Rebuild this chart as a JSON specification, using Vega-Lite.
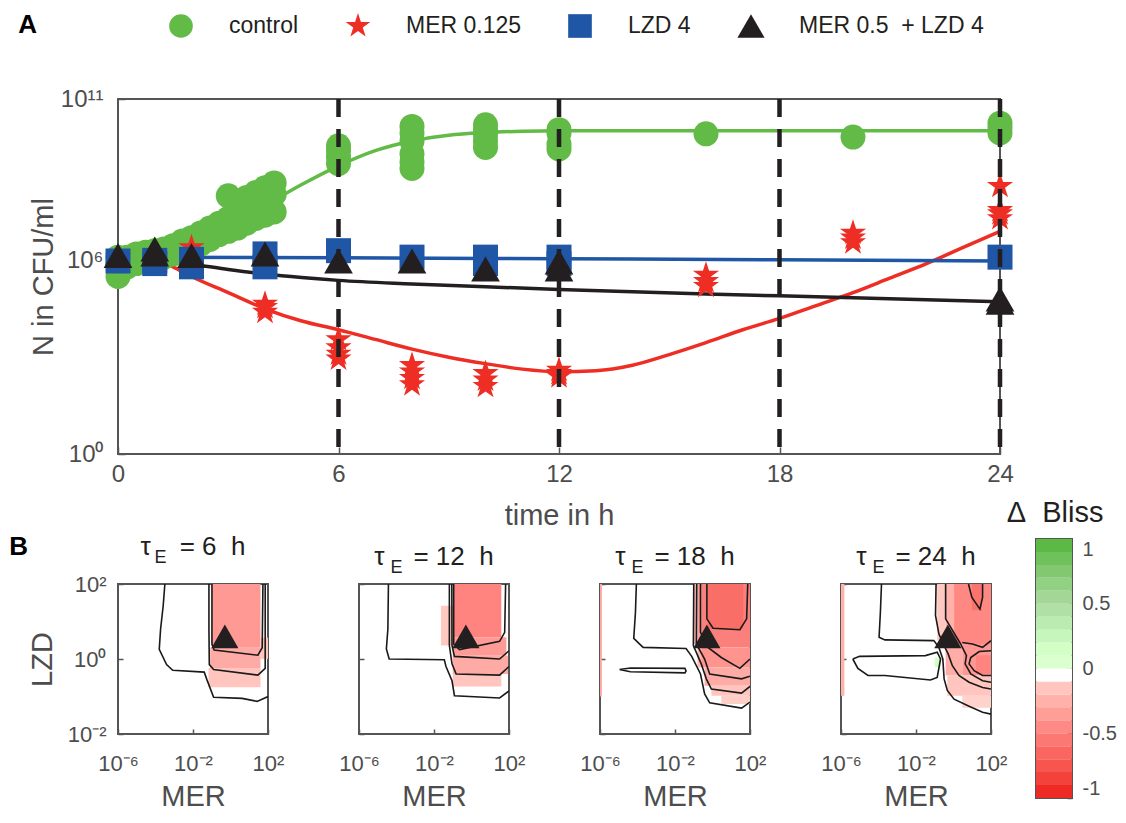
{
  "$schema": "https://vega.github.io/schema/vega-lite/v6.json",
  "background": "white",
  "padding": {"left": 9, "top": 11, "right": 4, "bottom": 2},
  "config": {
    "font": "Liberation Sans",
    "view": {"stroke": "#555555", "strokeWidth": 2},
    "axis": {"grid": false, "domain": false, "ticks": true, "tickColor": "#555555", "tickWidth": 1.5, "labelColor": "#4d4d4d", "titleColor": "#4d4d4d", "titleFontWeight": "normal", "labelFont": "Liberation Sans", "titleFont": "Liberation Sans", "labelOverlap": false},
    "title": {"font": "Liberation Sans", "color": "#231f20", "subtitleColor": "#231f20", "subtitleFont": "Liberation Sans"},
    "legend": {"labelFont": "Liberation Sans"}
  },
  "resolve": {
    "scale": {"color": "independent", "shape": "independent", "stroke": "independent"},
    "legend": {"color": "independent", "shape": "independent", "stroke": "independent"}
  },
  "spacing": -32,
  "datasets": {
    "obs": [
      {"series": "control", "t": 0, "logN": 5.5}, {"series": "control", "t": 0, "logN": 5.9}, {"series": "control", "t": 0, "logN": 6.1},
      {"series": "control", "t": 0.25, "logN": 5.8}, {"series": "control", "t": 0.25, "logN": 6.1},
      {"series": "control", "t": 0.5, "logN": 5.9}, {"series": "control", "t": 0.5, "logN": 6.2},
      {"series": "control", "t": 0.75, "logN": 6.0}, {"series": "control", "t": 0.75, "logN": 6.25},
      {"series": "control", "t": 1, "logN": 6.05}, {"series": "control", "t": 1, "logN": 6.3},
      {"series": "control", "t": 1.25, "logN": 6.1}, {"series": "control", "t": 1.25, "logN": 6.35},
      {"series": "control", "t": 1.5, "logN": 6.2}, {"series": "control", "t": 1.5, "logN": 6.45},
      {"series": "control", "t": 1.75, "logN": 6.3}, {"series": "control", "t": 1.75, "logN": 6.6},
      {"series": "control", "t": 2, "logN": 6.4}, {"series": "control", "t": 2, "logN": 6.7},
      {"series": "control", "t": 2.25, "logN": 6.5}, {"series": "control", "t": 2.25, "logN": 6.85},
      {"series": "control", "t": 2.5, "logN": 6.65}, {"series": "control", "t": 2.5, "logN": 7.0},
      {"series": "control", "t": 2.75, "logN": 6.8}, {"series": "control", "t": 2.75, "logN": 7.15},
      {"series": "control", "t": 3, "logN": 6.9}, {"series": "control", "t": 3, "logN": 7.3}, {"series": "control", "t": 3, "logN": 8.0},
      {"series": "control", "t": 3.25, "logN": 7.0}, {"series": "control", "t": 3.25, "logN": 7.45}, {"series": "control", "t": 3.25, "logN": 7.8},
      {"series": "control", "t": 3.5, "logN": 7.15}, {"series": "control", "t": 3.5, "logN": 7.6}, {"series": "control", "t": 3.5, "logN": 7.95},
      {"series": "control", "t": 3.75, "logN": 7.3}, {"series": "control", "t": 3.75, "logN": 7.75}, {"series": "control", "t": 3.75, "logN": 8.1},
      {"series": "control", "t": 4, "logN": 7.4}, {"series": "control", "t": 4, "logN": 7.9}, {"series": "control", "t": 4, "logN": 8.25},
      {"series": "control", "t": 4.25, "logN": 7.5}, {"series": "control", "t": 4.25, "logN": 8.05}, {"series": "control", "t": 4.25, "logN": 8.4},
      {"series": "control", "t": 6, "logN": 9.0}, {"series": "control", "t": 6, "logN": 9.2}, {"series": "control", "t": 6, "logN": 9.4}, {"series": "control", "t": 6, "logN": 9.55},
      {"series": "control", "t": 8, "logN": 8.85}, {"series": "control", "t": 8, "logN": 9.05}, {"series": "control", "t": 8, "logN": 9.3}, {"series": "control", "t": 8, "logN": 9.7}, {"series": "control", "t": 8, "logN": 9.95}, {"series": "control", "t": 8, "logN": 10.15},
      {"series": "control", "t": 10, "logN": 9.5}, {"series": "control", "t": 10, "logN": 9.7}, {"series": "control", "t": 10, "logN": 9.9}, {"series": "control", "t": 10, "logN": 10.05}, {"series": "control", "t": 10, "logN": 10.2},
      {"series": "control", "t": 12, "logN": 9.45}, {"series": "control", "t": 12, "logN": 9.6}, {"series": "control", "t": 12, "logN": 9.95}, {"series": "control", "t": 12, "logN": 10.05},
      {"series": "control", "t": 16, "logN": 9.92}, {"series": "control", "t": 20, "logN": 9.82},
      {"series": "control", "t": 24, "logN": 9.95}, {"series": "control", "t": 24, "logN": 10.1}, {"series": "control", "t": 24, "logN": 10.25},
      {"series": "MER 0.125", "t": 0, "logN": 6.1}, {"series": "MER 0.125", "t": 1, "logN": 6.1}, {"series": "MER 0.125", "t": 2, "logN": 6.4},
      {"series": "MER 0.125", "t": 4, "logN": 4.4}, {"series": "MER 0.125", "t": 4, "logN": 4.55}, {"series": "MER 0.125", "t": 4, "logN": 4.65},
      {"series": "MER 0.125", "t": 6, "logN": 3.55}, {"series": "MER 0.125", "t": 6, "logN": 3.3}, {"series": "MER 0.125", "t": 6, "logN": 3.1}, {"series": "MER 0.125", "t": 6, "logN": 2.95},
      {"series": "MER 0.125", "t": 8, "logN": 2.75}, {"series": "MER 0.125", "t": 8, "logN": 2.55}, {"series": "MER 0.125", "t": 8, "logN": 2.35}, {"series": "MER 0.125", "t": 8, "logN": 2.15},
      {"series": "MER 0.125", "t": 10, "logN": 2.5}, {"series": "MER 0.125", "t": 10, "logN": 2.3}, {"series": "MER 0.125", "t": 10, "logN": 2.1},
      {"series": "MER 0.125", "t": 12, "logN": 2.6}, {"series": "MER 0.125", "t": 12, "logN": 2.5}, {"series": "MER 0.125", "t": 12, "logN": 2.4},
      {"series": "MER 0.125", "t": 16, "logN": 5.55}, {"series": "MER 0.125", "t": 16, "logN": 5.35}, {"series": "MER 0.125", "t": 16, "logN": 5.2},
      {"series": "MER 0.125", "t": 20, "logN": 6.85}, {"series": "MER 0.125", "t": 20, "logN": 6.7}, {"series": "MER 0.125", "t": 20, "logN": 6.55},
      {"series": "MER 0.125", "t": 24, "logN": 8.3}, {"series": "MER 0.125", "t": 24, "logN": 7.55}, {"series": "MER 0.125", "t": 24, "logN": 7.45}, {"series": "MER 0.125", "t": 24, "logN": 7.3},
      {"series": "LZD 4", "t": 0, "logN": 5.98}, {"series": "LZD 4", "t": 1, "logN": 6.0}, {"series": "LZD 4", "t": 1, "logN": 5.9},
      {"series": "LZD 4", "t": 2, "logN": 6.03}, {"series": "LZD 4", "t": 2, "logN": 5.8}, {"series": "LZD 4", "t": 4, "logN": 6.2}, {"series": "LZD 4", "t": 4, "logN": 5.8},
      {"series": "LZD 4", "t": 6, "logN": 6.3}, {"series": "LZD 4", "t": 8, "logN": 6.1}, {"series": "LZD 4", "t": 10, "logN": 6.1}, {"series": "LZD 4", "t": 10, "logN": 5.9},
      {"series": "LZD 4", "t": 12, "logN": 6.1}, {"series": "LZD 4", "t": 12, "logN": 5.9}, {"series": "LZD 4", "t": 24, "logN": 6.1},
      {"series": "MER 0.5\u00a0 + LZD 4", "t": 0, "logN": 6.15}, {"series": "MER 0.5\u00a0 + LZD 4", "t": 1, "logN": 6.2}, {"series": "MER 0.5\u00a0 + LZD 4", "t": 1, "logN": 6.35},
      {"series": "MER 0.5\u00a0 + LZD 4", "t": 2, "logN": 6.15}, {"series": "MER 0.5\u00a0 + LZD 4", "t": 4, "logN": 6.2}, {"series": "MER 0.5\u00a0 + LZD 4", "t": 6, "logN": 5.98},
      {"series": "MER 0.5\u00a0 + LZD 4", "t": 8, "logN": 5.98}, {"series": "MER 0.5\u00a0 + LZD 4", "t": 10, "logN": 5.73}, {"series": "MER 0.5\u00a0 + LZD 4", "t": 12, "logN": 5.95},
      {"series": "MER 0.5\u00a0 + LZD 4", "t": 12, "logN": 5.73}, {"series": "MER 0.5\u00a0 + LZD 4", "t": 24, "logN": 4.8}, {"series": "MER 0.5\u00a0 + LZD 4", "t": 24, "logN": 4.7}
    ],
    "fit": [
      {"curve": "control", "t": 0, "logN": 6.0}, {"curve": "control", "t": 1, "logN": 6.2}, {"curve": "control", "t": 2, "logN": 6.55},
      {"curve": "control", "t": 3, "logN": 7.05}, {"curve": "control", "t": 4, "logN": 7.7}, {"curve": "control", "t": 5, "logN": 8.35},
      {"curve": "control", "t": 6, "logN": 8.93}, {"curve": "control", "t": 7, "logN": 9.4}, {"curve": "control", "t": 8, "logN": 9.7},
      {"curve": "control", "t": 9, "logN": 9.88}, {"curve": "control", "t": 10, "logN": 9.96}, {"curve": "control", "t": 11, "logN": 10.0},
      {"curve": "control", "t": 12, "logN": 10.02}, {"curve": "control", "t": 16, "logN": 10.02}, {"curve": "control", "t": 20, "logN": 10.02}, {"curve": "control", "t": 24, "logN": 10.02},
      {"curve": "MER 0.125", "t": 0, "logN": 6.1}, {"curve": "MER 0.125", "t": 1, "logN": 6.05}, {"curve": "MER 0.125", "t": 1.5, "logN": 5.8},
      {"curve": "MER 0.125", "t": 2, "logN": 5.5}, {"curve": "MER 0.125", "t": 3, "logN": 5.0}, {"curve": "MER 0.125", "t": 4, "logN": 4.5},
      {"curve": "MER 0.125", "t": 5, "logN": 4.12}, {"curve": "MER 0.125", "t": 6, "logN": 3.85}, {"curve": "MER 0.125", "t": 7, "logN": 3.55},
      {"curve": "MER 0.125", "t": 8, "logN": 3.25}, {"curve": "MER 0.125", "t": 9, "logN": 3.0}, {"curve": "MER 0.125", "t": 10, "logN": 2.8},
      {"curve": "MER 0.125", "t": 11, "logN": 2.63}, {"curve": "MER 0.125", "t": 12, "logN": 2.55}, {"curve": "MER 0.125", "t": 13, "logN": 2.58},
      {"curve": "MER 0.125", "t": 14, "logN": 2.75}, {"curve": "MER 0.125", "t": 15, "logN": 3.08}, {"curve": "MER 0.125", "t": 16, "logN": 3.45},
      {"curve": "MER 0.125", "t": 17, "logN": 3.85}, {"curve": "MER 0.125", "t": 18, "logN": 4.2}, {"curve": "MER 0.125", "t": 19, "logN": 4.6},
      {"curve": "MER 0.125", "t": 20, "logN": 5.0}, {"curve": "MER 0.125", "t": 21, "logN": 5.45}, {"curve": "MER 0.125", "t": 22, "logN": 5.9},
      {"curve": "MER 0.125", "t": 23, "logN": 6.4}, {"curve": "MER 0.125", "t": 24, "logN": 6.9},
      {"curve": "LZD 4", "t": 0, "logN": 6.1}, {"curve": "LZD 4", "t": 6, "logN": 6.08}, {"curve": "LZD 4", "t": 12, "logN": 6.05}, {"curve": "LZD 4", "t": 18, "logN": 6.02}, {"curve": "LZD 4", "t": 24, "logN": 5.98},
      {"curve": "MER 0.5\u00a0 + LZD 4", "t": 0, "logN": 6.05}, {"curve": "MER 0.5\u00a0 + LZD 4", "t": 1, "logN": 6.0}, {"curve": "MER 0.5\u00a0 + LZD 4", "t": 2, "logN": 5.88},
      {"curve": "MER 0.5\u00a0 + LZD 4", "t": 3, "logN": 5.72}, {"curve": "MER 0.5\u00a0 + LZD 4", "t": 4, "logN": 5.58}, {"curve": "MER 0.5\u00a0 + LZD 4", "t": 5, "logN": 5.47},
      {"curve": "MER 0.5\u00a0 + LZD 4", "t": 6, "logN": 5.38}, {"curve": "MER 0.5\u00a0 + LZD 4", "t": 8, "logN": 5.27}, {"curve": "MER 0.5\u00a0 + LZD 4", "t": 10, "logN": 5.18},
      {"curve": "MER 0.5\u00a0 + LZD 4", "t": 12, "logN": 5.1}, {"curve": "MER 0.5\u00a0 + LZD 4", "t": 14, "logN": 5.03}, {"curve": "MER 0.5\u00a0 + LZD 4", "t": 16, "logN": 4.96},
      {"curve": "MER 0.5\u00a0 + LZD 4", "t": 18, "logN": 4.9}, {"curve": "MER 0.5\u00a0 + LZD 4", "t": 20, "logN": 4.84}, {"curve": "MER 0.5\u00a0 + LZD 4", "t": 22, "logN": 4.78},
      {"curve": "MER 0.5\u00a0 + LZD 4", "t": 24, "logN": 4.72}
    ],
    "cuts": [{"t": 6}, {"t": 12}, {"t": 18}, {"t": 24}],
    "combo": [{"mer": -0.301, "lzd": 0.602}],
    "cells": [
      {"tau": 6, "mer_lo": -0.99, "mer_hi": 1.6, "lzd_lo": 0.3, "lzd_hi": 2, "bliss": -0.37},
      {"tau": 6, "mer_lo": -1.08, "mer_hi": 1.6, "lzd_lo": -0.24, "lzd_hi": 0.3, "bliss": -0.28},
      {"tau": 6, "mer_lo": -1.17, "mer_hi": 1.6, "lzd_lo": -0.75, "lzd_hi": -0.24, "bliss": -0.15},
      {"tau": 6, "mer_lo": 1.6, "mer_hi": 2, "lzd_lo": 0, "lzd_hi": 0.57, "bliss": -0.15},
      {"tau": 12, "mer_lo": -0.95, "mer_hi": 1.59, "lzd_lo": 0.58, "lzd_hi": 2, "bliss": -0.48},
      {"tau": 12, "mer_lo": -1.0, "mer_hi": 1.86, "lzd_lo": 0.09, "lzd_hi": 0.58, "bliss": -0.36},
      {"tau": 12, "mer_lo": -1.0, "mer_hi": 1.95, "lzd_lo": -0.4, "lzd_hi": 0.09, "bliss": -0.28},
      {"tau": 12, "mer_lo": -1.0, "mer_hi": 1.59, "lzd_lo": -0.73, "lzd_hi": -0.4, "bliss": -0.15},
      {"tau": 12, "mer_lo": -1.63, "mer_hi": -1.0, "lzd_lo": 0.36, "lzd_hi": 1.42, "bliss": -0.13},
      {"tau": 18, "mer_lo": -6, "mer_hi": -5.9, "lzd_lo": -1.0, "lzd_hi": 2, "bliss": -0.3},
      {"tau": 18, "mer_lo": -1.0, "mer_hi": -0.78, "lzd_lo": 0.4, "lzd_hi": 2, "bliss": -0.2},
      {"tau": 18, "mer_lo": -0.78, "mer_hi": -0.6, "lzd_lo": 0.31, "lzd_hi": 2, "bliss": -0.35},
      {"tau": 18, "mer_lo": -0.6, "mer_hi": 2, "lzd_lo": 0.31, "lzd_hi": 2, "bliss": -0.5},
      {"tau": 18, "mer_lo": -0.24, "mer_hi": 1.64, "lzd_lo": 0.8, "lzd_hi": 2, "bliss": -0.61},
      {"tau": 18, "mer_lo": -0.8, "mer_hi": -0.6, "lzd_lo": -0.22, "lzd_hi": 0.31, "bliss": -0.22},
      {"tau": 18, "mer_lo": -0.6, "mer_hi": 2, "lzd_lo": -0.22, "lzd_hi": 0.31, "bliss": -0.4},
      {"tau": 18, "mer_lo": -0.42, "mer_hi": 2, "lzd_lo": -0.71, "lzd_hi": -0.22, "bliss": -0.28},
      {"tau": 18, "mer_lo": -0.06, "mer_hi": 2, "lzd_lo": -0.98, "lzd_hi": -0.71, "bliss": -0.15},
      {"tau": 18, "mer_lo": 0.47, "mer_hi": 2, "lzd_lo": -1.2, "lzd_hi": -0.98, "bliss": -0.1},
      {"tau": 24, "mer_lo": -6, "mer_hi": -5.82, "lzd_lo": -0.98, "lzd_hi": 2, "bliss": -0.25},
      {"tau": 24, "mer_lo": -0.87, "mer_hi": -0.42, "lzd_lo": 0.5, "lzd_hi": 2, "bliss": -0.13},
      {"tau": 24, "mer_lo": -0.42, "mer_hi": 0.03, "lzd_lo": 0.4, "lzd_hi": 2, "bliss": -0.25},
      {"tau": 24, "mer_lo": 0.03, "mer_hi": 2, "lzd_lo": 0.4, "lzd_hi": 2, "bliss": -0.46},
      {"tau": 24, "mer_lo": 0.98, "mer_hi": 1.5, "lzd_lo": 1.3, "lzd_hi": 2, "bliss": -0.58},
      {"tau": 24, "mer_lo": -0.42, "mer_hi": 0.47, "lzd_lo": -0.44, "lzd_hi": 0.4, "bliss": -0.27},
      {"tau": 24, "mer_lo": 0.47, "mer_hi": 2, "lzd_lo": -0.44, "lzd_hi": 0.4, "bliss": -0.38},
      {"tau": 24, "mer_lo": 1.2, "mer_hi": 2, "lzd_lo": -0.4, "lzd_hi": 0.1, "bliss": -0.48},
      {"tau": 24, "mer_lo": -0.33, "mer_hi": 2, "lzd_lo": -0.98, "lzd_hi": -0.44, "bliss": -0.15},
      {"tau": 24, "mer_lo": 0.47, "mer_hi": 2, "lzd_lo": -1.3, "lzd_hi": -0.98, "bliss": -0.08},
      {"tau": 24, "mer_lo": -1.0, "mer_hi": -0.69, "lzd_lo": -0.22, "lzd_hi": 0.04, "bliss": 0.15}
    ],
    "contours": [
      {"tau": 6, "k": "a", "s": 0, "mer": -3.5, "lzd": 2.0}, {"tau": 6, "k": "a", "s": 1, "mer": -3.59, "lzd": 1.42}, {"tau": 6, "k": "a", "s": 2, "mer": -3.73, "lzd": 0.79},
      {"tau": 6, "k": "a", "s": 3, "mer": -3.8, "lzd": 0.26}, {"tau": 6, "k": "a", "s": 4, "mer": -3.41, "lzd": -0.15}, {"tau": 6, "k": "a", "s": 5, "mer": -3.08, "lzd": -0.3},
      {"tau": 6, "k": "a", "s": 6, "mer": -1.4, "lzd": -0.35}, {"tau": 6, "k": "a", "s": 7, "mer": -1.26, "lzd": -0.55}, {"tau": 6, "k": "a", "s": 8, "mer": -0.9, "lzd": -1.02},
      {"tau": 6, "k": "a", "s": 9, "mer": 0.62, "lzd": -1.05}, {"tau": 6, "k": "a", "s": 10, "mer": 1.42, "lzd": -1.13}, {"tau": 6, "k": "a", "s": 11, "mer": 2.0, "lzd": -1.0},
      {"tau": 6, "k": "b", "s": 0, "mer": -1.15, "lzd": 2.0}, {"tau": 6, "k": "b", "s": 1, "mer": -1.15, "lzd": 0.8}, {"tau": 6, "k": "b", "s": 2, "mer": -1.13, "lzd": -0.15},
      {"tau": 6, "k": "b", "s": 3, "mer": -0.9, "lzd": -0.28}, {"tau": 6, "k": "b", "s": 4, "mer": 1.46, "lzd": -0.43}, {"tau": 6, "k": "b", "s": 5, "mer": 1.85, "lzd": -0.25},
      {"tau": 6, "k": "b", "s": 6, "mer": 1.85, "lzd": 2.0},
      {"tau": 6, "k": "c", "s": 0, "mer": -0.99, "lzd": 2.0}, {"tau": 6, "k": "c", "s": 1, "mer": -0.99, "lzd": 0.39}, {"tau": 6, "k": "c", "s": 2, "mer": -0.87, "lzd": 0.24},
      {"tau": 6, "k": "c", "s": 3, "mer": 1.46, "lzd": 0.1}, {"tau": 6, "k": "c", "s": 4, "mer": 1.69, "lzd": 0.3}, {"tau": 6, "k": "c", "s": 5, "mer": 1.73, "lzd": 2.0},
      {"tau": 12, "k": "a", "s": 0, "mer": -4.43, "lzd": 2.0}, {"tau": 12, "k": "a", "s": 1, "mer": -4.46, "lzd": 0.8}, {"tau": 12, "k": "a", "s": 2, "mer": -4.54, "lzd": 0.27},
      {"tau": 12, "k": "a", "s": 3, "mer": -4.39, "lzd": 0.0}, {"tau": 12, "k": "a", "s": 4, "mer": -1.45, "lzd": -0.02}, {"tau": 12, "k": "a", "s": 5, "mer": -1.36, "lzd": -0.2},
      {"tau": 12, "k": "a", "s": 6, "mer": -1.04, "lzd": -0.58}, {"tau": 12, "k": "a", "s": 7, "mer": -0.91, "lzd": -0.98}, {"tau": 12, "k": "a", "s": 8, "mer": 1.5, "lzd": -1.04},
      {"tau": 12, "k": "a", "s": 9, "mer": 2.0, "lzd": -0.85},
      {"tau": 12, "k": "b", "s": 0, "mer": -1.18, "lzd": 2.0}, {"tau": 12, "k": "b", "s": 1, "mer": -1.18, "lzd": 0.36}, {"tau": 12, "k": "b", "s": 2, "mer": -1.04, "lzd": -0.13},
      {"tau": 12, "k": "b", "s": 3, "mer": -0.82, "lzd": -0.4}, {"tau": 12, "k": "b", "s": 4, "mer": 1.5, "lzd": -0.43}, {"tau": 12, "k": "b", "s": 5, "mer": 2.0, "lzd": -0.2},
      {"tau": 12, "k": "c", "s": 0, "mer": -1.05, "lzd": 2.0}, {"tau": 12, "k": "c", "s": 1, "mer": -1.04, "lzd": 0.36}, {"tau": 12, "k": "c", "s": 2, "mer": -0.91, "lzd": 0.07},
      {"tau": 12, "k": "c", "s": 3, "mer": 1.5, "lzd": 0.0}, {"tau": 12, "k": "c", "s": 4, "mer": 2.0, "lzd": 0.22},
      {"tau": 12, "k": "d", "s": 0, "mer": -0.95, "lzd": 2.0}, {"tau": 12, "k": "d", "s": 1, "mer": -0.95, "lzd": 0.4}, {"tau": 12, "k": "d", "s": 2, "mer": -0.64, "lzd": 0.25},
      {"tau": 12, "k": "d", "s": 3, "mer": 1.5, "lzd": 0.47}, {"tau": 12, "k": "d", "s": 4, "mer": 1.77, "lzd": 0.71}, {"tau": 12, "k": "d", "s": 5, "mer": 1.82, "lzd": 2.0},
      {"tau": 18, "k": "a", "s": 0, "mer": -4.06, "lzd": 2.0}, {"tau": 18, "k": "a", "s": 1, "mer": -4.11, "lzd": 1.24}, {"tau": 18, "k": "a", "s": 2, "mer": -4.2, "lzd": 0.55},
      {"tau": 18, "k": "a", "s": 3, "mer": -3.7, "lzd": 0.31}, {"tau": 18, "k": "a", "s": 4, "mer": -1.41, "lzd": 0.28}, {"tau": 18, "k": "a", "s": 5, "mer": -1.11, "lzd": 0.07},
      {"tau": 18, "k": "a", "s": 6, "mer": -0.64, "lzd": -0.4}, {"tau": 18, "k": "a", "s": 7, "mer": -0.42, "lzd": -0.93}, {"tau": 18, "k": "a", "s": 8, "mer": -0.15, "lzd": -1.17},
      {"tau": 18, "k": "a", "s": 9, "mer": 1.55, "lzd": -1.31}, {"tau": 18, "k": "a", "s": 10, "mer": 2.0, "lzd": -1.15},
      {"tau": 18, "k": "b", "s": 0, "mer": -1.0, "lzd": 2.0}, {"tau": 18, "k": "b", "s": 1, "mer": -1.02, "lzd": 0.36}, {"tau": 18, "k": "b", "s": 2, "mer": -0.6, "lzd": -0.13},
      {"tau": 18, "k": "b", "s": 3, "mer": -0.33, "lzd": -0.53}, {"tau": 18, "k": "b", "s": 4, "mer": -0.06, "lzd": -0.8}, {"tau": 18, "k": "b", "s": 5, "mer": 1.55, "lzd": -0.91},
      {"tau": 18, "k": "b", "s": 6, "mer": 2.0, "lzd": -0.73},
      {"tau": 18, "k": "c", "s": 0, "mer": -0.84, "lzd": 2.0}, {"tau": 18, "k": "c", "s": 1, "mer": -0.86, "lzd": 0.4}, {"tau": 18, "k": "c", "s": 2, "mer": -0.42, "lzd": 0.0},
      {"tau": 18, "k": "c", "s": 3, "mer": -0.15, "lzd": -0.4}, {"tau": 18, "k": "c", "s": 4, "mer": 1.55, "lzd": -0.53}, {"tau": 18, "k": "c", "s": 5, "mer": 2.0, "lzd": -0.46},
      {"tau": 18, "k": "d", "s": 0, "mer": -0.64, "lzd": 2.0}, {"tau": 18, "k": "d", "s": 1, "mer": -0.64, "lzd": 0.71}, {"tau": 18, "k": "d", "s": 2, "mer": -0.24, "lzd": 0.31},
      {"tau": 18, "k": "d", "s": 3, "mer": 0.47, "lzd": 0.04}, {"tau": 18, "k": "d", "s": 4, "mer": 1.46, "lzd": -0.25}, {"tau": 18, "k": "d", "s": 5, "mer": 2.0, "lzd": 0.0},
      {"tau": 18, "k": "e", "s": 0, "mer": -0.3, "lzd": 2.0}, {"tau": 18, "k": "e", "s": 1, "mer": -0.3, "lzd": 1.07}, {"tau": 18, "k": "e", "s": 2, "mer": 0.03, "lzd": 0.82},
      {"tau": 18, "k": "e", "s": 3, "mer": 1.46, "lzd": 0.78}, {"tau": 18, "k": "e", "s": 4, "mer": 1.82, "lzd": 1.07}, {"tau": 18, "k": "e", "s": 5, "mer": 1.88, "lzd": 2.0},
      {"tau": 18, "k": "f", "s": 0, "mer": -4.96, "lzd": -0.28}, {"tau": 18, "k": "f", "s": 1, "mer": -4.38, "lzd": -0.24}, {"tau": 18, "k": "f", "s": 2, "mer": -1.47, "lzd": -0.25},
      {"tau": 18, "k": "f", "s": 3, "mer": -1.41, "lzd": -0.32}, {"tau": 18, "k": "f", "s": 4, "mer": -1.47, "lzd": -0.37}, {"tau": 18, "k": "f", "s": 5, "mer": -4.38, "lzd": -0.34},
      {"tau": 18, "k": "f", "s": 6, "mer": -4.96, "lzd": -0.28},
      {"tau": 24, "k": "a", "s": 0, "mer": -3.84, "lzd": 2.0}, {"tau": 24, "k": "a", "s": 1, "mer": -3.9, "lzd": 1.24}, {"tau": 24, "k": "a", "s": 2, "mer": -3.97, "lzd": 0.58},
      {"tau": 24, "k": "a", "s": 3, "mer": -3.66, "lzd": 0.51}, {"tau": 24, "k": "a", "s": 4, "mer": -1.05, "lzd": 0.49}, {"tau": 24, "k": "a", "s": 5, "mer": -0.78, "lzd": 0.31},
      {"tau": 24, "k": "a", "s": 6, "mer": -0.57, "lzd": 0.0}, {"tau": 24, "k": "a", "s": 7, "mer": -0.5, "lzd": -0.53}, {"tau": 24, "k": "a", "s": 8, "mer": -0.33, "lzd": -0.84},
      {"tau": 24, "k": "a", "s": 9, "mer": 0.03, "lzd": -1.07}, {"tau": 24, "k": "a", "s": 10, "mer": 0.83, "lzd": -1.26}, {"tau": 24, "k": "a", "s": 11, "mer": 1.55, "lzd": -1.42},
      {"tau": 24, "k": "a", "s": 12, "mer": 2.0, "lzd": -1.47},
      {"tau": 24, "k": "b", "s": 0, "mer": -5.37, "lzd": 0.0}, {"tau": 24, "k": "b", "s": 1, "mer": -5.01, "lzd": 0.07}, {"tau": 24, "k": "b", "s": 2, "mer": -1.5, "lzd": 0.09},
      {"tau": 24, "k": "b", "s": 3, "mer": -0.87, "lzd": 0.18}, {"tau": 24, "k": "b", "s": 4, "mer": -0.69, "lzd": 0.0}, {"tau": 24, "k": "b", "s": 5, "mer": -0.87, "lzd": -0.49},
      {"tau": 24, "k": "b", "s": 6, "mer": -1.23, "lzd": -0.56}, {"tau": 24, "k": "b", "s": 7, "mer": -3.66, "lzd": -0.44}, {"tau": 24, "k": "b", "s": 8, "mer": -4.56, "lzd": -0.44},
      {"tau": 24, "k": "b", "s": 9, "mer": -5.1, "lzd": -0.25}, {"tau": 24, "k": "b", "s": 10, "mer": -5.37, "lzd": 0.0},
      {"tau": 24, "k": "c", "s": 0, "mer": -0.93, "lzd": 2.0}, {"tau": 24, "k": "c", "s": 1, "mer": -0.96, "lzd": 1.16}, {"tau": 24, "k": "c", "s": 2, "mer": -0.78, "lzd": 0.67},
      {"tau": 24, "k": "c", "s": 3, "mer": -0.51, "lzd": 0.36}, {"tau": 24, "k": "c", "s": 4, "mer": -0.28, "lzd": 0.13}, {"tau": 24, "k": "c", "s": 5, "mer": -0.06, "lzd": -0.18},
      {"tau": 24, "k": "c", "s": 6, "mer": 0.29, "lzd": -0.44}, {"tau": 24, "k": "c", "s": 7, "mer": 0.83, "lzd": -0.62}, {"tau": 24, "k": "c", "s": 8, "mer": 1.55, "lzd": -0.76},
      {"tau": 24, "k": "c", "s": 9, "mer": 2.0, "lzd": -0.8},
      {"tau": 24, "k": "d", "s": 0, "mer": -0.42, "lzd": 2.0}, {"tau": 24, "k": "d", "s": 1, "mer": -0.42, "lzd": 1.07}, {"tau": 24, "k": "d", "s": 2, "mer": 0.38, "lzd": 0.4},
      {"tau": 24, "k": "d", "s": 3, "mer": 0.69, "lzd": 0.09}, {"tau": 24, "k": "d", "s": 4, "mer": 0.62, "lzd": -0.13}, {"tau": 24, "k": "d", "s": 5, "mer": 0.92, "lzd": -0.4},
      {"tau": 24, "k": "d", "s": 6, "mer": 1.55, "lzd": -0.58}, {"tau": 24, "k": "d", "s": 7, "mer": 2.0, "lzd": -0.62},
      {"tau": 24, "k": "e", "s": 0, "mer": 2.0, "lzd": 0.22}, {"tau": 24, "k": "e", "s": 1, "mer": 1.37, "lzd": 0.2}, {"tau": 24, "k": "e", "s": 2, "mer": 0.92, "lzd": 0.04},
      {"tau": 24, "k": "e", "s": 3, "mer": 0.83, "lzd": -0.13}, {"tau": 24, "k": "e", "s": 4, "mer": 1.1, "lzd": -0.31}, {"tau": 24, "k": "e", "s": 5, "mer": 1.55, "lzd": -0.44},
      {"tau": 24, "k": "e", "s": 6, "mer": 2.0, "lzd": -0.44},
      {"tau": 24, "k": "f", "s": 0, "mer": 0.8, "lzd": 2.0}, {"tau": 24, "k": "f", "s": 1, "mer": 0.98, "lzd": 1.64}, {"tau": 24, "k": "f", "s": 2, "mer": 1.41, "lzd": 1.33},
      {"tau": 24, "k": "f", "s": 3, "mer": 1.55, "lzd": 1.64}, {"tau": 24, "k": "f", "s": 4, "mer": 1.55, "lzd": 2.0},
      {"tau": 24, "k": "g", "s": 0, "mer": 0.47, "lzd": 0.44}, {"tau": 24, "k": "g", "s": 1, "mer": 1.01, "lzd": 0.4}, {"tau": 24, "k": "g", "s": 2, "mer": 1.55, "lzd": 0.31},
      {"tau": 24, "k": "g", "s": 3, "mer": 2.0, "lzd": 0.49}
    ],
    "bands": [
      {"lo": -1.0, "hi": -0.9, "mid": -0.95}, {"lo": -0.9, "hi": -0.8, "mid": -0.85}, {"lo": -0.8, "hi": -0.7, "mid": -0.75}, {"lo": -0.7, "hi": -0.6, "mid": -0.65},
      {"lo": -0.6, "hi": -0.5, "mid": -0.55}, {"lo": -0.5, "hi": -0.4, "mid": -0.45}, {"lo": -0.4, "hi": -0.3, "mid": -0.35}, {"lo": -0.3, "hi": -0.2, "mid": -0.25},
      {"lo": -0.2, "hi": -0.1, "mid": -0.15}, {"lo": -0.1, "hi": 0.0, "mid": -0.05}, {"lo": 0.0, "hi": 0.1, "mid": 0.05}, {"lo": 0.1, "hi": 0.2, "mid": 0.15},
      {"lo": 0.2, "hi": 0.3, "mid": 0.25}, {"lo": 0.3, "hi": 0.4, "mid": 0.35}, {"lo": 0.4, "hi": 0.5, "mid": 0.45}, {"lo": 0.5, "hi": 0.6, "mid": 0.55},
      {"lo": 0.6, "hi": 0.7, "mid": 0.65}, {"lo": 0.7, "hi": 0.8, "mid": 0.75}, {"lo": 0.8, "hi": 0.9, "mid": 0.85}, {"lo": 0.9, "hi": 1.0, "mid": 0.95}
    ]
  },
  "vconcat": [
    {
      "width": 882,
      "height": 355,
      "title": {"text": "A", "anchor": "start", "fontSize": 26, "fontWeight": "bold", "offset": -24, "dx": -11, "color": "#000000"},
      "layer": [
        {
          "data": {"name": "fit"},
          "mark": {"type": "line", "strokeWidth": 3.5, "interpolate": "monotone", "clip": true},
          "encoding": {
            "x": {"field": "t", "type": "quantitative", "scale": {"domain": [0, 24], "nice": false, "zero": false}, "axis": {"title": "time in h", "values": [0, 6, 12, 18, 24], "labelFontSize": 24, "titleFontSize": 29, "tickSize": -7, "labelPadding": 15, "titlePadding": 15, "labelAngle": 0, "labelFlush": false}},
            "y": {"field": "logN", "type": "quantitative", "scale": {"domain": [0, 11], "nice": false, "zero": false}, "axis": {"title": "N in CFU/ml", "values": [0, 6, 11], "labelExpr": "datum.value == 0 ? '10⁰' : datum.value == 6 ? '10⁶' : '10¹¹'", "labelFontSize": 24, "titleFontSize": 29, "tickSize": -7, "labelPadding": 22, "titlePadding": 2}},
            "stroke": {"field": "curve", "type": "nominal", "scale": {"domain": ["LZD 4", "MER 0.125", "MER 0.5\u00a0 + LZD 4", "control"], "range": ["#1f56a5", "#ee2e24", "#231f20", "#62bb46"]}, "legend": null}
          }
        },
        {
          "data": {"name": "obs"},
          "mark": {"type": "point", "filled": true, "opacity": 1, "strokeWidth": 0, "size": 625},
          "encoding": {
            "x": {"field": "t", "type": "quantitative", "scale": {"domain": [0, 24], "nice": false, "zero": false}, "axis": {"title": "time in h", "values": [0, 6, 12, 18, 24], "labelFontSize": 24, "titleFontSize": 29, "tickSize": -7, "labelPadding": 15, "titlePadding": 15, "labelAngle": 0, "labelFlush": false}},
            "y": {"field": "logN", "type": "quantitative", "scale": {"domain": [0, 11], "nice": false, "zero": false}, "axis": {"title": "N in CFU/ml", "values": [0, 6, 11], "labelExpr": "datum.value == 0 ? '10⁰' : datum.value == 6 ? '10⁶' : '10¹¹'", "labelFontSize": 24, "titleFontSize": 29, "tickSize": -7, "labelPadding": 22, "titlePadding": 2}},
            "color": {
              "field": "series", "type": "nominal",
              "scale": {"domain": ["control", "MER 0.125", "LZD 4", "MER 0.5\u00a0 + LZD 4"], "range": ["#62bb46", "#ee2e24", "#1f56a5", "#231f20"]},
              "legend": {"orient": "none", "legendX": 51, "legendY": -85, "direction": "horizontal", "columns": 4, "title": null, "labelFontSize": 23, "labelLimit": 400, "labelColor": "#231f20", "symbolSize": 560, "symbolStrokeWidth": 0, "labelOffset": 36, "columnPadding": 46}
            },
            "shape": {
              "field": "series", "type": "nominal",
              "scale": {"domain": ["control", "MER 0.125", "LZD 4", "MER 0.5\u00a0 + LZD 4"], "range": ["circle", "M0,-1.1L0.247,-0.34L1.046,-0.34L0.4,0.13L0.647,0.89L0,0.42L-0.647,0.89L-0.4,0.13L-1.046,-0.34L-0.247,-0.34Z", "square", "M0,-1L1.15,1L-1.15,1Z"]},
              "legend": {"orient": "none", "legendX": 51, "legendY": -85, "direction": "horizontal", "columns": 4, "title": null, "labelFontSize": 23, "labelLimit": 400, "labelColor": "#231f20", "symbolSize": 560, "symbolStrokeWidth": 0, "labelOffset": 36, "columnPadding": 46}
            }
          }
        },
        {
          "data": {"name": "cuts"},
          "mark": {"type": "rule", "strokeDash": [18, 12], "strokeWidth": 4.5, "color": "#231f20"},
          "encoding": {
            "x": {"field": "t", "type": "quantitative", "scale": {"domain": [0, 24], "nice": false, "zero": false}, "axis": {"title": "time in h", "values": [0, 6, 12, 18, 24], "labelFontSize": 24, "titleFontSize": 29, "tickSize": -7, "labelPadding": 15, "titlePadding": 15, "labelAngle": 0, "labelFlush": false}}
          }
        }
      ]
    },
    {
      "title": {"text": "Δ\u00a0\u00a0Bliss", "anchor": "end", "fontSize": 29, "fontWeight": "normal", "dx": -14, "offset": 5, "color": "#231f20"},
      "spacing": 27,
      "hconcat": [
        {
          "title": {"text": "B", "anchor": "start", "fontSize": 26, "fontWeight": "bold", "offset": -27, "dx": -18, "color": "#000000"},
          "spacing": -7,
          "vconcat": [
            {"width": 10, "height": 1, "data": {"values": []}, "mark": "point", "view": {"stroke": null}},
            {
              "spacing": 52,
              "hconcat": [
                {
                  "width": 150, "height": 150,
                  "title": {"text": "τ\u00a0\u00a0\u00a0 = 6\u00a0 h", "subtitle": "E\u00a0\u00a0\u00a0\u00a0\u00a0\u00a0\u00a0\u00a0\u00a0\u00a0\u00a0\u00a0\u00a0\u200b", "frame": "group", "fontSize": 26, "fontWeight": "normal", "subtitleFontSize": 18, "subtitlePadding": -11, "offset": 6},
                  "layer": [
                    {
                      "data": {"name": "cells"}, "transform": [{"filter": "datum.tau == 6"}],
                      "mark": {"type": "rect", "clip": true},
                      "encoding": {
                        "x": {"field": "mer_lo", "type": "quantitative", "scale": {"domain": [-6, 2], "nice": false, "zero": false}, "axis": {"title": "MER", "values": [-6, -2, 2], "labelExpr": "datum.value == -6 ? '10⁻⁶' : datum.value == -2 ? '10⁻²' : '10²'", "labelFontSize": 22, "titleFontSize": 29, "tickSize": -5, "labelPadding": 24, "titlePadding": 8, "labelFlush": false}},
                        "x2": {"field": "mer_hi"},
                        "y": {"field": "lzd_lo", "type": "quantitative", "scale": {"domain": [-2, 2], "nice": false, "zero": false}, "axis": {"title": "LZD", "values": [-2, 0, 2], "labelExpr": "datum.value == -2 ? '10⁻²' : datum.value == 0 ? '10⁰' : '10²'", "labelFontSize": 22, "titleFontSize": 29, "tickSize": -5, "labelPadding": 17, "titlePadding": 10}},
                        "y2": {"field": "lzd_hi"},
                        "fill": {"field": "bliss", "type": "quantitative", "scale": {"domain": [-0.95, -0.5, -0.05, 0.05, 0.5, 0.95], "range": ["#ee2a24", "#fb807c", "#ffffff", "#ffffff", "#acdba1", "#5cb946"], "clamp": true}, "legend": null}
                      }
                    },
                    {
                      "data": {"name": "contours"}, "transform": [{"filter": "datum.tau == 6"}],
                      "mark": {"type": "line", "color": "#1a1a1a", "strokeWidth": 1.6, "clip": true},
                      "encoding": {
                        "x": {"field": "mer", "type": "quantitative", "scale": {"domain": [-6, 2], "nice": false, "zero": false}, "axis": {"title": "MER", "values": [-6, -2, 2], "labelExpr": "datum.value == -6 ? '10⁻⁶' : datum.value == -2 ? '10⁻²' : '10²'", "labelFontSize": 22, "titleFontSize": 29, "tickSize": -5, "labelPadding": 24, "titlePadding": 8, "labelFlush": false}},
                        "y": {"field": "lzd", "type": "quantitative", "scale": {"domain": [-2, 2], "nice": false, "zero": false}, "axis": {"title": "LZD", "values": [-2, 0, 2], "labelExpr": "datum.value == -2 ? '10⁻²' : datum.value == 0 ? '10⁰' : '10²'", "labelFontSize": 22, "titleFontSize": 29, "tickSize": -5, "labelPadding": 17, "titlePadding": 10}},
                        "detail": {"field": "k", "type": "nominal"},
                        "order": {"field": "s", "type": "quantitative"}
                      }
                    },
                    {
                      "data": {"name": "combo"},
                      "mark": {"type": "point", "shape": "M0,-1L1.15,1L-1.15,1Z", "filled": true, "color": "#231f20", "opacity": 1, "size": 560, "strokeWidth": 0},
                      "encoding": {
                        "x": {"field": "mer", "type": "quantitative", "scale": {"domain": [-6, 2], "nice": false, "zero": false}, "axis": {"title": "MER", "values": [-6, -2, 2], "labelExpr": "datum.value == -6 ? '10⁻⁶' : datum.value == -2 ? '10⁻²' : '10²'", "labelFontSize": 22, "titleFontSize": 29, "tickSize": -5, "labelPadding": 24, "titlePadding": 8, "labelFlush": false}},
                        "y": {"field": "lzd", "type": "quantitative", "scale": {"domain": [-2, 2], "nice": false, "zero": false}, "axis": {"title": "LZD", "values": [-2, 0, 2], "labelExpr": "datum.value == -2 ? '10⁻²' : datum.value == 0 ? '10⁰' : '10²'", "labelFontSize": 22, "titleFontSize": 29, "tickSize": -5, "labelPadding": 17, "titlePadding": 10}}
                      }
                    }
                  ]
                },
                {
                  "width": 150, "height": 150,
                  "title": {"text": "τ\u00a0\u00a0\u00a0 = 12\u00a0 h", "subtitle": "E\u00a0\u00a0\u00a0\u00a0\u00a0\u00a0\u00a0\u00a0\u00a0\u00a0\u00a0\u00a0\u00a0\u00a0\u00a0\u200b", "frame": "group", "fontSize": 26, "fontWeight": "normal", "subtitleFontSize": 18, "subtitlePadding": -11, "offset": 6},
                  "layer": [
                    {
                      "data": {"name": "cells"}, "transform": [{"filter": "datum.tau == 12"}],
                      "mark": {"type": "rect", "clip": true},
                      "encoding": {
                        "x": {"field": "mer_lo", "type": "quantitative", "scale": {"domain": [-6, 2], "nice": false, "zero": false}, "axis": {"title": "MER", "values": [-6, -2, 2], "labelExpr": "datum.value == -6 ? '10⁻⁶' : datum.value == -2 ? '10⁻²' : '10²'", "labelFontSize": 22, "titleFontSize": 29, "tickSize": -5, "labelPadding": 24, "titlePadding": 8, "labelFlush": false}},
                        "x2": {"field": "mer_hi"},
                        "y": {"field": "lzd_lo", "type": "quantitative", "scale": {"domain": [-2, 2], "nice": false, "zero": false}, "axis": {"title": null, "labels": false, "values": [-2, 0, 2], "tickSize": -5}},
                        "y2": {"field": "lzd_hi"},
                        "fill": {"field": "bliss", "type": "quantitative", "scale": {"domain": [-0.95, -0.5, -0.05, 0.05, 0.5, 0.95], "range": ["#ee2a24", "#fb807c", "#ffffff", "#ffffff", "#acdba1", "#5cb946"], "clamp": true}, "legend": null}
                      }
                    },
                    {
                      "data": {"name": "contours"}, "transform": [{"filter": "datum.tau == 12"}],
                      "mark": {"type": "line", "color": "#1a1a1a", "strokeWidth": 1.6, "clip": true},
                      "encoding": {
                        "x": {"field": "mer", "type": "quantitative", "scale": {"domain": [-6, 2], "nice": false, "zero": false}, "axis": {"title": "MER", "values": [-6, -2, 2], "labelExpr": "datum.value == -6 ? '10⁻⁶' : datum.value == -2 ? '10⁻²' : '10²'", "labelFontSize": 22, "titleFontSize": 29, "tickSize": -5, "labelPadding": 24, "titlePadding": 8, "labelFlush": false}},
                        "y": {"field": "lzd", "type": "quantitative", "scale": {"domain": [-2, 2], "nice": false, "zero": false}, "axis": {"title": null, "labels": false, "values": [-2, 0, 2], "tickSize": -5}},
                        "detail": {"field": "k", "type": "nominal"},
                        "order": {"field": "s", "type": "quantitative"}
                      }
                    },
                    {
                      "data": {"name": "combo"},
                      "mark": {"type": "point", "shape": "M0,-1L1.15,1L-1.15,1Z", "filled": true, "color": "#231f20", "opacity": 1, "size": 560, "strokeWidth": 0},
                      "encoding": {
                        "x": {"field": "mer", "type": "quantitative", "scale": {"domain": [-6, 2], "nice": false, "zero": false}, "axis": {"title": "MER", "values": [-6, -2, 2], "labelExpr": "datum.value == -6 ? '10⁻⁶' : datum.value == -2 ? '10⁻²' : '10²'", "labelFontSize": 22, "titleFontSize": 29, "tickSize": -5, "labelPadding": 24, "titlePadding": 8, "labelFlush": false}},
                        "y": {"field": "lzd", "type": "quantitative", "scale": {"domain": [-2, 2], "nice": false, "zero": false}, "axis": {"title": null, "labels": false, "values": [-2, 0, 2], "tickSize": -5}}
                      }
                    }
                  ]
                },
                {
                  "width": 150, "height": 150,
                  "title": {"text": "τ\u00a0\u00a0\u00a0 = 18\u00a0 h", "subtitle": "E\u00a0\u00a0\u00a0\u00a0\u00a0\u00a0\u00a0\u00a0\u00a0\u00a0\u00a0\u00a0\u00a0\u00a0\u00a0\u200b", "frame": "group", "fontSize": 26, "fontWeight": "normal", "subtitleFontSize": 18, "subtitlePadding": -11, "offset": 6},
                  "layer": [
                    {
                      "data": {"name": "cells"}, "transform": [{"filter": "datum.tau == 18"}],
                      "mark": {"type": "rect", "clip": true},
                      "encoding": {
                        "x": {"field": "mer_lo", "type": "quantitative", "scale": {"domain": [-6, 2], "nice": false, "zero": false}, "axis": {"title": "MER", "values": [-6, -2, 2], "labelExpr": "datum.value == -6 ? '10⁻⁶' : datum.value == -2 ? '10⁻²' : '10²'", "labelFontSize": 22, "titleFontSize": 29, "tickSize": -5, "labelPadding": 24, "titlePadding": 8, "labelFlush": false}},
                        "x2": {"field": "mer_hi"},
                        "y": {"field": "lzd_lo", "type": "quantitative", "scale": {"domain": [-2, 2], "nice": false, "zero": false}, "axis": {"title": null, "labels": false, "values": [-2, 0, 2], "tickSize": -5}},
                        "y2": {"field": "lzd_hi"},
                        "fill": {"field": "bliss", "type": "quantitative", "scale": {"domain": [-0.95, -0.5, -0.05, 0.05, 0.5, 0.95], "range": ["#ee2a24", "#fb807c", "#ffffff", "#ffffff", "#acdba1", "#5cb946"], "clamp": true}, "legend": null}
                      }
                    },
                    {
                      "data": {"name": "contours"}, "transform": [{"filter": "datum.tau == 18"}],
                      "mark": {"type": "line", "color": "#1a1a1a", "strokeWidth": 1.6, "clip": true},
                      "encoding": {
                        "x": {"field": "mer", "type": "quantitative", "scale": {"domain": [-6, 2], "nice": false, "zero": false}, "axis": {"title": "MER", "values": [-6, -2, 2], "labelExpr": "datum.value == -6 ? '10⁻⁶' : datum.value == -2 ? '10⁻²' : '10²'", "labelFontSize": 22, "titleFontSize": 29, "tickSize": -5, "labelPadding": 24, "titlePadding": 8, "labelFlush": false}},
                        "y": {"field": "lzd", "type": "quantitative", "scale": {"domain": [-2, 2], "nice": false, "zero": false}, "axis": {"title": null, "labels": false, "values": [-2, 0, 2], "tickSize": -5}},
                        "detail": {"field": "k", "type": "nominal"},
                        "order": {"field": "s", "type": "quantitative"}
                      }
                    },
                    {
                      "data": {"name": "combo"},
                      "mark": {"type": "point", "shape": "M0,-1L1.15,1L-1.15,1Z", "filled": true, "color": "#231f20", "opacity": 1, "size": 560, "strokeWidth": 0},
                      "encoding": {
                        "x": {"field": "mer", "type": "quantitative", "scale": {"domain": [-6, 2], "nice": false, "zero": false}, "axis": {"title": "MER", "values": [-6, -2, 2], "labelExpr": "datum.value == -6 ? '10⁻⁶' : datum.value == -2 ? '10⁻²' : '10²'", "labelFontSize": 22, "titleFontSize": 29, "tickSize": -5, "labelPadding": 24, "titlePadding": 8, "labelFlush": false}},
                        "y": {"field": "lzd", "type": "quantitative", "scale": {"domain": [-2, 2], "nice": false, "zero": false}, "axis": {"title": null, "labels": false, "values": [-2, 0, 2], "tickSize": -5}}
                      }
                    }
                  ]
                },
                {
                  "width": 150, "height": 150,
                  "title": {"text": "τ\u00a0\u00a0\u00a0 = 24\u00a0 h", "subtitle": "E\u00a0\u00a0\u00a0\u00a0\u00a0\u00a0\u00a0\u00a0\u00a0\u00a0\u00a0\u00a0\u00a0\u00a0\u00a0\u200b", "frame": "group", "fontSize": 26, "fontWeight": "normal", "subtitleFontSize": 18, "subtitlePadding": -11, "offset": 6},
                  "layer": [
                    {
                      "data": {"name": "cells"}, "transform": [{"filter": "datum.tau == 24"}],
                      "mark": {"type": "rect", "clip": true},
                      "encoding": {
                        "x": {"field": "mer_lo", "type": "quantitative", "scale": {"domain": [-6, 2], "nice": false, "zero": false}, "axis": {"title": "MER", "values": [-6, -2, 2], "labelExpr": "datum.value == -6 ? '10⁻⁶' : datum.value == -2 ? '10⁻²' : '10²'", "labelFontSize": 22, "titleFontSize": 29, "tickSize": -5, "labelPadding": 24, "titlePadding": 8, "labelFlush": false}},
                        "x2": {"field": "mer_hi"},
                        "y": {"field": "lzd_lo", "type": "quantitative", "scale": {"domain": [-2, 2], "nice": false, "zero": false}, "axis": {"title": null, "labels": false, "values": [-2, 0, 2], "tickSize": -5}},
                        "y2": {"field": "lzd_hi"},
                        "fill": {"field": "bliss", "type": "quantitative", "scale": {"domain": [-0.95, -0.5, -0.05, 0.05, 0.5, 0.95], "range": ["#ee2a24", "#fb807c", "#ffffff", "#ffffff", "#acdba1", "#5cb946"], "clamp": true}, "legend": null}
                      }
                    },
                    {
                      "data": {"name": "contours"}, "transform": [{"filter": "datum.tau == 24"}],
                      "mark": {"type": "line", "color": "#1a1a1a", "strokeWidth": 1.6, "clip": true},
                      "encoding": {
                        "x": {"field": "mer", "type": "quantitative", "scale": {"domain": [-6, 2], "nice": false, "zero": false}, "axis": {"title": "MER", "values": [-6, -2, 2], "labelExpr": "datum.value == -6 ? '10⁻⁶' : datum.value == -2 ? '10⁻²' : '10²'", "labelFontSize": 22, "titleFontSize": 29, "tickSize": -5, "labelPadding": 24, "titlePadding": 8, "labelFlush": false}},
                        "y": {"field": "lzd", "type": "quantitative", "scale": {"domain": [-2, 2], "nice": false, "zero": false}, "axis": {"title": null, "labels": false, "values": [-2, 0, 2], "tickSize": -5}},
                        "detail": {"field": "k", "type": "nominal"},
                        "order": {"field": "s", "type": "quantitative"}
                      }
                    },
                    {
                      "data": {"name": "combo"},
                      "mark": {"type": "point", "shape": "M0,-1L1.15,1L-1.15,1Z", "filled": true, "color": "#231f20", "opacity": 1, "size": 560, "strokeWidth": 0},
                      "encoding": {
                        "x": {"field": "mer", "type": "quantitative", "scale": {"domain": [-6, 2], "nice": false, "zero": false}, "axis": {"title": "MER", "values": [-6, -2, 2], "labelExpr": "datum.value == -6 ? '10⁻⁶' : datum.value == -2 ? '10⁻²' : '10²'", "labelFontSize": 22, "titleFontSize": 29, "tickSize": -5, "labelPadding": 24, "titlePadding": 8, "labelFlush": false}},
                        "y": {"field": "lzd", "type": "quantitative", "scale": {"domain": [-2, 2], "nice": false, "zero": false}, "axis": {"title": null, "labels": false, "values": [-2, 0, 2], "tickSize": -5}}
                      }
                    }
                  ]
                }
              ]
            }
          ]
        },
        {
          "width": 36,
          "height": 259,
          "data": {"name": "bands"},
          "mark": "rect",
          "encoding": {
            "y": {"field": "lo", "type": "quantitative", "scale": {"domain": [-1, 1], "nice": false, "zero": false}, "axis": {"orient": "right", "title": null, "values": [-1, -0.5, 0, 0.5, 1], "labelExpr": "'' + datum.value", "labelFontSize": 20, "labelFlush": true, "tickSize": -5, "labelPadding": 15}},
            "y2": {"field": "hi"},
            "fill": {"field": "mid", "type": "quantitative", "scale": {"domain": [-0.95, -0.5, -0.05, 0.05, 0.5, 0.95], "range": ["#ee2a24", "#fb807c", "#ffffff", "#ffffff", "#acdba1", "#5cb946"], "clamp": true}, "legend": null}
          }
        }
      ]
    }
  ]
}
